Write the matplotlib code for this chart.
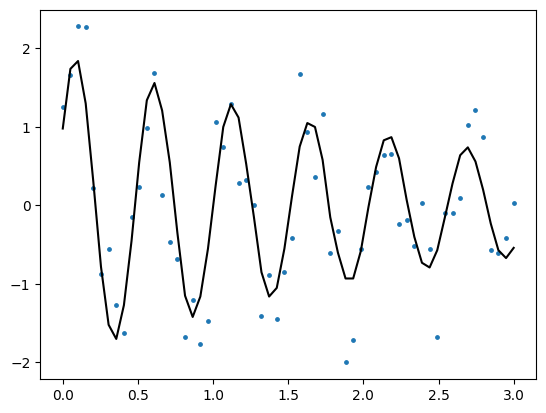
"""Zajos csillapított rezgés mérési pontjai és az illesztett görbe."""

import matplotlib

matplotlib.use("Agg")
import matplotlib.pyplot as plt

# mintavételi pontok (0..3, 60 minta)
x_data = [
    0.0, 0.0508, 0.1017, 0.1525, 0.2034, 0.2542, 0.3051, 0.3559, 0.4068, 0.4576,
    0.5085, 0.5593, 0.6102, 0.6610, 0.7119, 0.7627, 0.8136, 0.8644, 0.9153, 0.9661,
    1.0169, 1.0678, 1.1186, 1.1695, 1.2203, 1.2712, 1.3220, 1.3729, 1.4237, 1.4746,
    1.5254, 1.5763, 1.6271, 1.6780, 1.7288, 1.7797, 1.8305, 1.8814, 1.9322, 1.9831,
    2.0339, 2.0847, 2.1356, 2.1864, 2.2373, 2.2881, 2.3390, 2.3898, 2.4407, 2.4915,
    2.5424, 2.5932, 2.6441, 2.6949, 2.7458, 2.7966, 2.8475, 2.8983, 2.9492, 3.0,
]

# mért (zajos) értékek
y_data = [
    1.25, 1.66, 2.28, 2.27, 0.22, -0.87, -0.56, -1.27, -1.62, -0.15,
    0.23, 0.99, 1.69, 0.13, -0.47, -0.68, -1.68, -1.21, -1.77, -1.47,
    1.06, 0.74, 1.29, 0.29, 0.32, 0.00, -1.41, -0.88, -1.44, -0.85,
    -0.41, 1.67, 0.94, 0.36, 1.16, -0.60, -0.32, -2.00, -1.71, -0.56,
    0.24, 0.42, 0.64, 0.65, -0.24, -0.19, -0.51, 0.03, -0.55, -1.68,
    -0.10, -0.09, 0.09, 1.03, 1.21, 0.87, -0.57, -0.60, -0.41, 0.03,
]

# illesztett görbe értékei ugyanazokban a pontokban
y_fit = [
    0.98, 1.74, 1.84, 1.30, 0.30, -0.78, -1.52, -1.70, -1.27, -0.45,
    0.55, 1.34, 1.56, 1.21, 0.55, -0.35, -1.15, -1.42, -1.16, -0.55,
    0.25, 1.00, 1.29, 1.12, 0.53, -0.14, -0.85, -1.16, -1.05, -0.55,
    0.12, 0.75, 1.05, 1.00, 0.58, -0.15, -0.60, -0.93, -0.93, -0.58,
    -0.02, 0.49, 0.83, 0.87, 0.60, 0.07, -0.40, -0.73, -0.79, -0.57,
    -0.15, 0.28, 0.64, 0.74, 0.56, 0.20, -0.23, -0.57, -0.67, -0.54,
]

fig, ax = plt.subplots(figsize=(6.4, 4.8), dpi=100)
ax.scatter(x_data, y_data, s=6)
ax.plot(x_data, y_fit, color="black")

fig.savefig("out.png", dpi=100, bbox_inches="tight")
